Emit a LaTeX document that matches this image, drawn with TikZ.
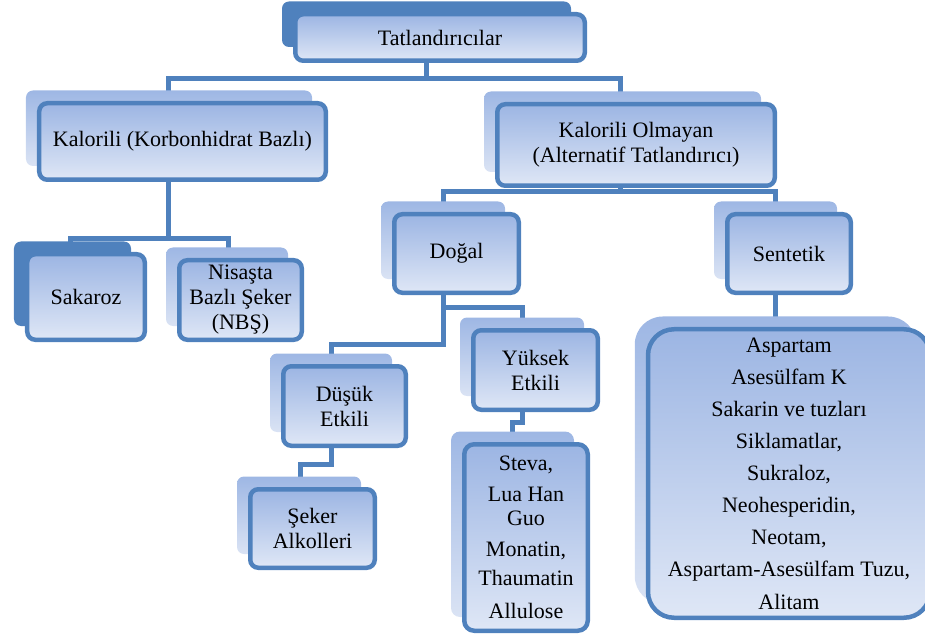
\documentclass[tikz,border=0pt]{standalone}
\usepackage{fontspec}
\setmainfont{Liberation Serif}
\definecolor{bdr}{RGB}{79,129,189}
\definecolor{fr1}{RGB}{156,181,227}
\definecolor{fr2}{RGB}{223,231,246}
\definecolor{bk1}{RGB}{158,183,228}
\definecolor{bk2}{RGB}{218,227,244}
\pgfdeclarelayer{connl}
\pgfdeclarelayer{backl}
\pgfsetlayers{connl,backl,main}
\tikzset{
  front/.style={draw=bdr, line width=4.5bp, rounded corners=8bp, top color=fr1, bottom color=fr2,
    inner sep=2bp, align=center, font=\fontsize{22bp}{25bp}\selectfont},
  backlight/.style={top color=bk1, bottom color=bk2, rounded corners=7bp},
  backdark/.style={fill=bdr, rounded corners=7bp},
  conn/.style={draw=bdr, line width=5bp},
}
\newcommand\tbox[8]{%
  \node[front, minimum width=#4bp, minimum height=#5bp, #8] (#1) at (#2,#3) {#7};
  \begin{pgfonlayer}{backl}
    \path[#6] ([shift={(-11,-10.5)}]#1.north west) rectangle ([shift={(-16,-16)}]#1.south east);
  \end{pgfonlayer}}
\begin{document}
\begin{tikzpicture}[x=1bp,y=-1bp]
\useasboundingbox (0,0) rectangle (925,642);
\tbox{top}{440}{37.5}{289.5}{46.5}{backdark}{Tatlandırıcılar}{}
\tbox{kal}{182.5}{141.5}{286.5}{76.5}{backlight}{Kalorili (Korbonhidrat Bazlı)}{}
\tbox{kalo}{636}{145}{277.5}{81.5}{backlight}{Kalorili Olmayan\\(Alternatif Tatlandırıcı)}{}
\tbox{sak}{86}{297}{117.5}{85.5}{backdark}{Sakaroz}{}
\tbox{nbs}{240.5}{300}{122.5}{79.5}{backlight}{Nisaşta\\Bazlı Şeker\\(NBŞ)}{}
\tbox{dogal}{456.5}{253.5}{124.5}{78.5}{backlight}{Doğal}{}
\tbox{sent}{789}{253.5}{123.5}{78.5}{backlight}{Sentetik}{}
\tbox{dusuk}{344.5}{406}{122.5}{79.5}{backlight}{Düşük\\Etkili}{}
\tbox{yuksek}{535.5}{370}{124.5}{79.5}{backlight}{Yüksek\\Etkili}{}
\tbox{seker}{312.5}{528.5}{124.5}{78.5}{backlight}{Şeker\\Alkolleri}{}
\tbox{steva}{526}{537.5}{123.5}{186.5}{backlight,rounded corners=9bp}{Steva,\\[7bp]Lua Han\\Guo\\[7bp]Monatin,\\[5bp]Thaumatin\\[9bp]Allulose}{rounded corners=10bp, font=\fontsize{22bp}{24bp}\selectfont}
\tbox{big}{789}{473.5}{282}{288.5}{backlight,rounded corners=28bp}{Aspartam\\Asesülfam K\\Sakarin ve tuzları\\Siklamatlar,\\Sukraloz,\\Neohesperidin,\\Neotam,\\Aspartam-Asesülfam Tuzu,\\Alitam}{rounded corners=26bp, font=\fontsize{22bp}{32.1bp}\selectfont}
\begin{pgfonlayer}{connl}
\draw[conn] ([xshift=-14bp]top.south) -- ++(0,16) -| ([xshift=-14bp]kal.north);
\draw[conn] ([xshift=-14bp]top.south) -- ++(0,16) -| ([xshift=-16bp]kalo.north);
\draw[conn] ([xshift=-14bp]kal.south) -- ++(0,56) -| ([xshift=-16bp]sak.north);
\draw[conn] ([xshift=-14bp]kal.south) -- ++(0,56) -| ([xshift=-12bp]nbs.north);
\draw[conn] ([xshift=-16bp]kalo.south) -- ++(0,4) -| ([xshift=-13.5bp]dogal.north);
\draw[conn] ([xshift=-16bp]kalo.south) -- ++(0,4) -| ([xshift=-14bp]sent.north);
\draw[conn] ([xshift=-13.5bp]dogal.south) -- ++(0,49) -| ([xshift=-13.5bp]dusuk.north);
\draw[conn] ([xshift=-13.5bp,yshift=-12bp]dogal.south) -| ([xshift=-13bp]yuksek.north);
\draw[conn] ([xshift=-13.5bp]dusuk.south) -- ++(0,16) -| ([xshift=-12.5bp]seker.north);
\draw[conn] ([xshift=-13bp]yuksek.south) -- ++(0,10) -| ([xshift=-14bp]steva.north);
\draw[conn] ([xshift=-14bp]sent.south) -- ++(0,37);
\end{pgfonlayer}
\end{tikzpicture}
\end{document}
